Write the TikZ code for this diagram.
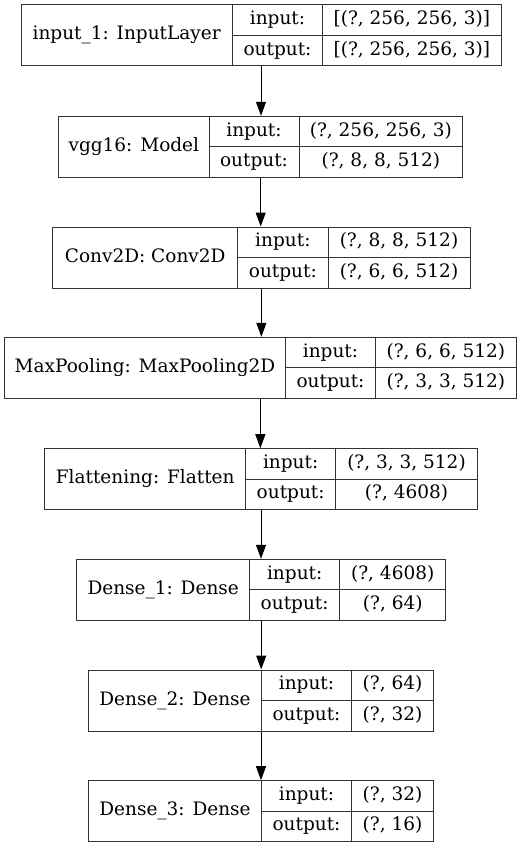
\documentclass[tikz,border=0pt]{standalone}
\usepackage{fontspec}
\setmainfont{DejaVu Serif}
\usetikzlibrary{arrows.meta}
\tikzset{
  rec/.style={draw=black!80, line width=1pt, inner sep=0pt, fill=white},
  lbl/.style={inner sep=0pt, text height=13pt, text depth=4pt, font=\fontsize{18.5}{22}\selectfont},
  flow/.style={draw=black, line width=1pt, -{Triangle[length=14pt,width=10pt]}},
  div/.style={draw=black!80, line width=1pt}
}
% #1 name, #2 top, #3 x0, #4 x1, #5 x2, #6 x3, #7 label, #8 input shape, #9 output shape
\newcommand{\layerrec}[9]{%
  \node[rec, minimum width={(#6-#3)*1pt}, minimum height=61pt] (#1) at ({(#3+#6)/2},{#2+30.5}) {};
  \draw[div] (#4,#2) -- (#4,{#2+61}) (#5,#2) -- (#5,{#2+61}) (#4,{#2+30.5}) -- (#6,{#2+30.5});
  \node[lbl] (#1-name) at ({(#3+#4)/2},{#2+30.5}) {#7};
  \node[lbl] (#1-inl) at ({(#4+#5)/2},{#2+15.25}) {input:};
  \node[lbl] (#1-outl) at ({(#4+#5)/2},{#2+45.75}) {output:};
  \node[lbl] (#1-in) at ({(#5+#6)/2},{#2+15.25}) {#8};
  \node[lbl] (#1-out) at ({(#5+#6)/2},{#2+45.75}) {#9};
}
\begin{document}
\begin{tikzpicture}[x=1pt,y=-1pt]
\useasboundingbox (0,0) rectangle (527,848);
\layerrec{b1}{5}{21}{232.3}{322.7}{501}{input\_1: InputLayer}{[(?, 256, 256, 3)]}{[(?, 256, 256, 3)]}
\layerrec{b2}{116.3}{58.7}{209}{299}{462.7}{vgg16: Model}{(?, 256, 256, 3)}{(?, 8, 8, 512)}
\layerrec{b3}{227}{52.7}{237.7}{328}{470}{Conv2D: Conv2D}{(?, 8, 8, 512)}{(?, 6, 6, 512)}
\layerrec{b4}{337.3}{4.7}{285.3}{375.7}{516}{MaxPooling: MaxPooling2D}{(?, 6, 6, 512)}{(?, 3, 3, 512)}
\layerrec{b5}{448.7}{44.7}{245.7}{335.7}{477.3}{Flattening: Flatten}{(?, 3, 3, 512)}{(?, 4608)}
\layerrec{b6}{559.3}{76.7}{249.7}{339.7}{445.7}{Dense\_1: Dense}{(?, 4608)}{(?, 64)}
\layerrec{b7}{670}{88.3}{261.7}{351.3}{433.7}{Dense\_2: Dense}{(?, 64)}{(?, 32)}
\layerrec{b8}{780.7}{88.3}{261.7}{351.3}{433.7}{Dense\_3: Dense}{(?, 32)}{(?, 16)}
\draw[flow] (b1.south) -- (b1.south |- b2.north);
\draw[flow] (b2.south) -- (b2.south |- b3.north);
\draw[flow] (b3.south) -- (b3.south |- b4.north);
\draw[flow] (b4.south) -- (b4.south |- b5.north);
\draw[flow] (b5.south) -- (b5.south |- b6.north);
\draw[flow] (b6.south) -- (b6.south |- b7.north);
\draw[flow] (b7.south) -- (b7.south |- b8.north);
\end{tikzpicture}
\end{document}
